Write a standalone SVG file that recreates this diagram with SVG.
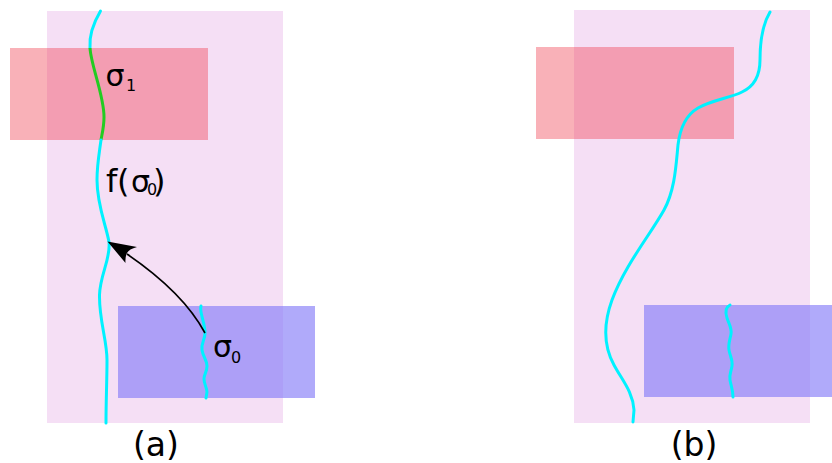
<svg xmlns="http://www.w3.org/2000/svg" width="832" height="463" viewBox="0 0 832 463">
<style>
.panel{fill:#f5dff5}
.red{fill:#f03749;fill-opacity:0.39}
.blue{fill:#847af7;fill-opacity:0.64}
.curve{fill:none;stroke:#00f2ff;stroke-width:3;stroke-linecap:round}
.green{fill:none;stroke:#22cc22;stroke-width:3}
.lbl{font-family:"DejaVu Sans",sans-serif;fill:#000}
</style>
<g id="panel-a">
<rect class="panel" x="47" y="11" width="236" height="412"/>
<rect class="red" x="10" y="48" width="198" height="92"/>
<rect class="blue" x="118" y="306" width="197" height="92"/>
</g>
<g id="panel-b">
<rect class="panel" x="574" y="10" width="236" height="413"/>
<rect class="red" x="536" y="47" width="198" height="92"/>
<rect class="blue" x="644" y="305" width="197" height="92"/>
</g>
<g id="curves-a">
<path class="curve" d="M100.5,11 C94,22 89,36 90,48"/>
<path class="green" d="M90,48 C91,66 104,95 104,117 C104,127 102,134 101,140"/>
<path class="curve" d="M101,140 C99,155 97,165 97,180 C97,205 106,225 109,242 C111,258 100,275 99.5,295 C99,320 107,340 107,360 C107,380 106,400 106,423"/>
<path class="curve" d="M201,306 C199,312 205,322 205,333 C205,340 201,343 202,350 C203,357 207,360 207,366 C207,372 204,374 204,379 C204,384 207,388 207,392 L206,398"/>
</g>
<g id="curves-b">
<path class="curve" stroke-width="3.2" d="M770,12 C764,22 760,38 760,60 C760,75 755,86 742,92 C730,98 712,100 698,108 C686,115 680,128 678,145 C676,165 675,190 664,210 C650,235 625,265 612,300 C604,322 603,345 614,365 C622,380 633,392 634,410 L633,422"/>
<path class="curve" d="M730,305 C726,307 725,312 727,318 C729,324 732,328 731,334 C730,340 728,344 729,350 C730,356 733,360 732,366 C731,372 729,375 730,380 C731,386 733,390 733,397"/>
</g>
<g id="connectors">
<path d="M205,333 C190,305 165,280 127,254" fill="none" stroke="#000" stroke-width="1.6"/>
<path d="M107.5,241.5 L137,247 Q129,249 127,253 Q125,257 125.5,263 Z" fill="#000"/>
</g>
<g id="labels">
<text class="lbl" x="105.5" y="85.5" font-size="30">σ</text>
<text class="lbl" x="126" y="91" font-size="16">1</text>
<text class="lbl" x="106" y="192" font-size="32">f</text>
<text class="lbl" x="117" y="192" font-size="32">(</text>
<text class="lbl" x="131" y="192" font-size="30">σ</text>
<text class="lbl" x="147" y="195" font-size="16">0</text>
<text class="lbl" x="153" y="192" font-size="32">)</text>
<text class="lbl" x="213" y="357" font-size="30">σ</text>
<text class="lbl" x="231" y="363" font-size="16">0</text>
<text class="lbl" x="156" y="456" font-size="33" text-anchor="middle">(a)</text>
<text class="lbl" x="694" y="456" font-size="33" text-anchor="middle">(b)</text>
</g>
</svg>
